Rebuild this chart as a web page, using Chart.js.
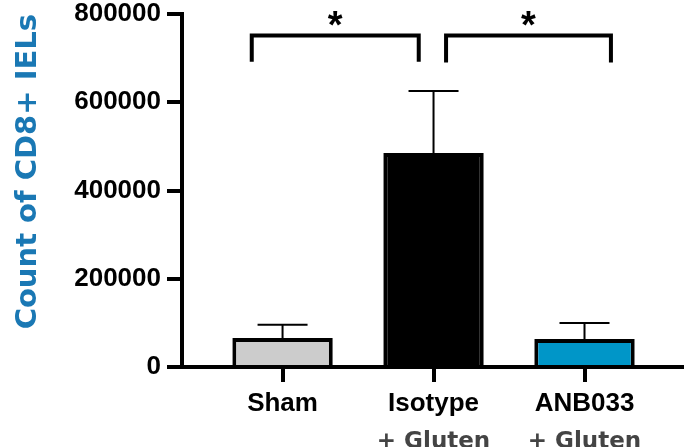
<!DOCTYPE html>
<html lang="en">
<head>
    <meta charset="UTF-8">
    <title>Count of CD8+ IELs</title>
    <style>
        body {
            margin: 0;
            padding: 0;
            background-color: #fff;
        }

        .chart-box {
            width: 684px;
            height: 447px;
        }
    </style>
</head>
<body>
    <div class="chart-box">
        <canvas id="iels"></canvas>
    </div>

    <script src="https://cdn.jsdelivr.net/npm/chart.js"></script>
    <script>
        // values
        const groups = ['Sham', 'Isotype', 'ANB033'];
        const groupsLine2 = ['', '+ Gluten', '+ Gluten'];
        const means = [66000, 485000, 63500];
        const errUp = [29500, 140500, 36200];
        const yTicks = [0, 200000, 400000, 600000, 800000];

        // significance brackets: from / to (group index), top and leg ends (count)
        const bracketFrom = [-0.204, 1.083];
        const bracketTo = [0.902, 2.175];
        const bracketTop = [751000, 751000];
        const bracketLegs = [692000, 690000];
        const bracketMark = ['*', '*'];

        const barColors = ['#cccccc', '#000000', '#0096c8'];

        const extras = {
            id: 'extras',
            afterDatasetsDraw(chart) {
                const ctx = chart.ctx;
                const x = chart.scales.x;
                const y = chart.scales.y;
                ctx.save();

                // error bars, upper only
                ctx.strokeStyle = '#000';
                ctx.lineWidth = 2;
                means.forEach((m, i) => {
                    const px = x.getPixelForValue(i);
                    const y0 = y.getPixelForValue(m);
                    const y1 = y.getPixelForValue(m + errUp[i]);
                    ctx.beginPath();
                    ctx.moveTo(px, y0);
                    ctx.lineTo(px, y1);
                    ctx.moveTo(px - 25, y1);
                    ctx.lineTo(px + 25, y1);
                    ctx.stroke();
                });

                // brackets with stars
                ctx.lineWidth = 4;
                ctx.lineJoin = 'miter';
                ctx.font = 'bold 38px "Liberation Sans", Arial, sans-serif';
                ctx.textAlign = 'center';
                ctx.textBaseline = 'alphabetic';
                ctx.fillStyle = '#000';
                bracketFrom.forEach((f, i) => {
                    const x1 = x.getPixelForValue(f);
                    const x2 = x.getPixelForValue(bracketTo[i]);
                    const yt = y.getPixelForValue(bracketTop[i]);
                    const yl = y.getPixelForValue(bracketLegs[i]);
                    ctx.beginPath();
                    ctx.moveTo(x1, yl);
                    ctx.lineTo(x1, yt);
                    ctx.lineTo(x2, yt);
                    ctx.lineTo(x2, yl);
                    ctx.stroke();
                    ctx.fillText(bracketMark[i], (x1 + x2) / 2, yt + 2);
                });

                // second line of the group labels
                ctx.font = 'bold 23px "DejaVu Sans", sans-serif';
                ctx.fillStyle = '#444444';
                groupsLine2.forEach((t, i) => {
                    if (t) ctx.fillText(t, x.getPixelForValue(i), 448);
                });
                ctx.restore();
            }
        };

        new Chart(document.getElementById('iels'), {
            type: 'bar',
            data: {
                datasets: [{
                    data: means.map((v, i) => ({ x: i, y: v })),
                    backgroundColor: barColors,
                    borderColor: '#000',
                    borderWidth: 4,
                    barPercentage: 0.665,
                    categoryPercentage: 1
                }]
            },
            options: {
                responsive: true,
                maintainAspectRatio: false,
                animation: false,
                layout: { padding: { top: 14, left: 0, right: 0, bottom: 0 } },
                plugins: {
                    legend: { display: false },
                    tooltip: { enabled: false }
                },
                scales: {
                    x: {
                        type: 'linear',
                        offset: false,
                        min: -0.666,
                        max: 2.659,
                        afterBuildTicks: (s) => { s.ticks = groups.map((_, i) => ({ value: i })); },
                        afterFit: (s) => { s.height = 80; s.paddingLeft = 0; s.paddingRight = 0; },
                        grid: {
                            offset: false,
                            drawOnChartArea: false,
                            color: '#000',
                            lineWidth: 4,
                            tickLength: 15
                        },
                        border: { color: '#000', width: 4 },
                        ticks: {
                            color: '#000',
                            padding: 6,
                            font: { family: '"Liberation Sans", Arial, sans-serif', size: 26, weight: 'bold' },
                            callback: (v) => groups[v]
                        }
                    },
                    y: {
                        min: 0,
                        max: 800000,
                        afterBuildTicks: (s) => { s.ticks = yTicks.map(v => ({ value: v })); },
                        afterFit: (s) => { s.width = 182; s.paddingTop = 0; s.paddingBottom = 0; },
                        grid: {
                            drawOnChartArea: false,
                            color: '#000',
                            lineWidth: 4,
                            tickLength: 15
                        },
                        border: { color: '#000', width: 4 },
                        ticks: {
                            color: '#000',
                            padding: 6,
                            font: { family: '"Liberation Sans", Arial, sans-serif', size: 26, weight: 'bold' },
                            callback: (v) => String(v)
                        },
                        title: {
                            display: true,
                            text: 'Count of CD8+ IELs',
                            align: 'end',
                            color: '#1a78b4',
                            padding: { top: 11, bottom: 0 },
                            font: { family: '"DejaVu Sans", sans-serif', size: 29, weight: 'bold' }
                        }
                    }
                }
            },
            plugins: [extras]
        });
    </script>
</body>
</html>
